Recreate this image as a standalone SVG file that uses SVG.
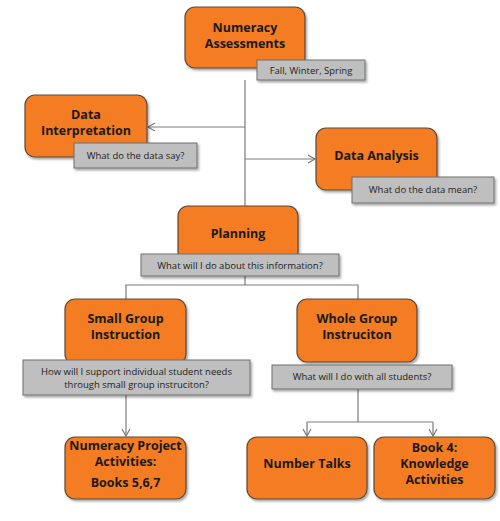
<svg xmlns="http://www.w3.org/2000/svg" width="500" height="521" viewBox="0 0 500 521">
<style>
.node{fill:#F47B20;stroke:#5a4a3a;stroke-width:1.2;filter:url(#sh)}
.lab{fill:#BFBFBF;stroke:#6f6f6f;stroke-width:1;filter:url(#sh)}
.t{font-family:"Open Sans","Liberation Sans",sans-serif;font-weight:bold;font-size:12.5px;fill:#1a1a1a;text-anchor:middle}
.s{font-family:"Open Sans","Liberation Sans",sans-serif;font-size:9.5px;fill:#222;text-anchor:middle}
.c{fill:none;stroke:#7a7a7a;stroke-width:1.2}
</style>
<defs>
<filter id="sh" x="-10%" y="-10%" width="130%" height="140%">
<feDropShadow dx="1.5" dy="2" stdDeviation="1.2" flood-color="#000" flood-opacity="0.35"/>
</filter>
<marker id="a" markerWidth="10" markerHeight="10" refX="8" refY="5" orient="auto" markerUnits="userSpaceOnUse">
<path d="M1,1 L8,5 L1,9" fill="none" stroke="#7a7a7a" stroke-width="1.2"/>
</marker>
</defs>
<g id="connectors">
<path class="c" d="M245,80 V207"/>
<path class="c" d="M245,127 H148" marker-end="url(#a)"/>
<path class="c" d="M245,159 H315" marker-end="url(#a)"/>
<path class="c" d="M245,276 V285 M126,299 V285 H358 V299"/>
<path class="c" d="M126,395 V436" marker-end="url(#a)"/>
<path class="c" d="M358,389 V422 M307,422 H433"/>
<path class="c" d="M307,422 V436" marker-end="url(#a)"/>
<path class="c" d="M433,422 V436" marker-end="url(#a)"/>
</g>
<g id="numeracy-assessments">
<rect class="node" x="185" y="7" width="120" height="61" rx="10"/>
<text class="t" x="245" y="32">Numeracy</text>
<text class="t" x="245" y="48">Assessments</text>
<rect class="lab" x="257" y="60" width="108" height="20"/>
<text class="s" x="311" y="74">Fall, Winter, Spring</text>
</g>
<g id="data-interpretation">
<rect class="node" x="25" y="95" width="122" height="62" rx="10"/>
<text class="t" x="86" y="119">Data</text>
<text class="t" x="86" y="135">Interpretation</text>
<rect class="lab" x="74" y="143" width="123" height="25"/>
<text class="s" x="135.5" y="159">What do the data say?</text>
</g>
<g id="data-analysis">
<rect class="node" x="316" y="128" width="121" height="62" rx="10"/>
<text class="t" x="376.5" y="160">Data Analysis</text>
<rect class="lab" x="352" y="177" width="142" height="26"/>
<text class="s" x="423" y="193">What do the data mean?</text>
</g>
<g id="planning">
<rect class="node" x="178" y="206" width="120" height="56" rx="10"/>
<text class="t" x="238" y="238">Planning</text>
<rect class="lab" x="141" y="254" width="198" height="22"/>
<text class="s" x="240" y="269">What will I do about this information?</text>
</g>
<g id="small-group">
<rect class="node" x="65" y="299" width="121" height="65" rx="10"/>
<text class="t" x="125.5" y="323">Small Group</text>
<text class="t" x="125.5" y="339">Instruction</text>
<rect class="lab" x="23" y="360" width="227" height="35"/>
<text class="s" x="136.5" y="375">How will I support individual student needs</text>
<text class="s" x="136.5" y="388">through small group instruciton?</text>
</g>
<g id="whole-group">
<rect class="node" x="297" y="299" width="120" height="63" rx="10"/>
<text class="t" x="357" y="323">Whole Group</text>
<text class="t" x="357" y="339">Instruciton</text>
<rect class="lab" x="272" y="365" width="180" height="24"/>
<text class="s" x="362" y="380">What will I do with all students?</text>
</g>
<g id="numeracy-project">
<rect class="node" x="65" y="437" width="121" height="62" rx="10"/>
<text class="t" x="125.5" y="450">Numeracy Project</text>
<text class="t" x="125.5" y="466">Activities:</text>
<text class="t" x="125.5" y="487">Books 5,6,7</text>
</g>
<g id="number-talks">
<rect class="node" x="247" y="437" width="120" height="62" rx="10"/>
<text class="t" x="307" y="468">Number Talks</text>
</g>
<g id="book-4">
<rect class="node" x="374" y="437" width="121" height="62" rx="10"/>
<text class="t" x="434.5" y="452">Book 4:</text>
<text class="t" x="434.5" y="468">Knowledge</text>
<text class="t" x="434.5" y="484">Activities</text>
</g>
</svg>
